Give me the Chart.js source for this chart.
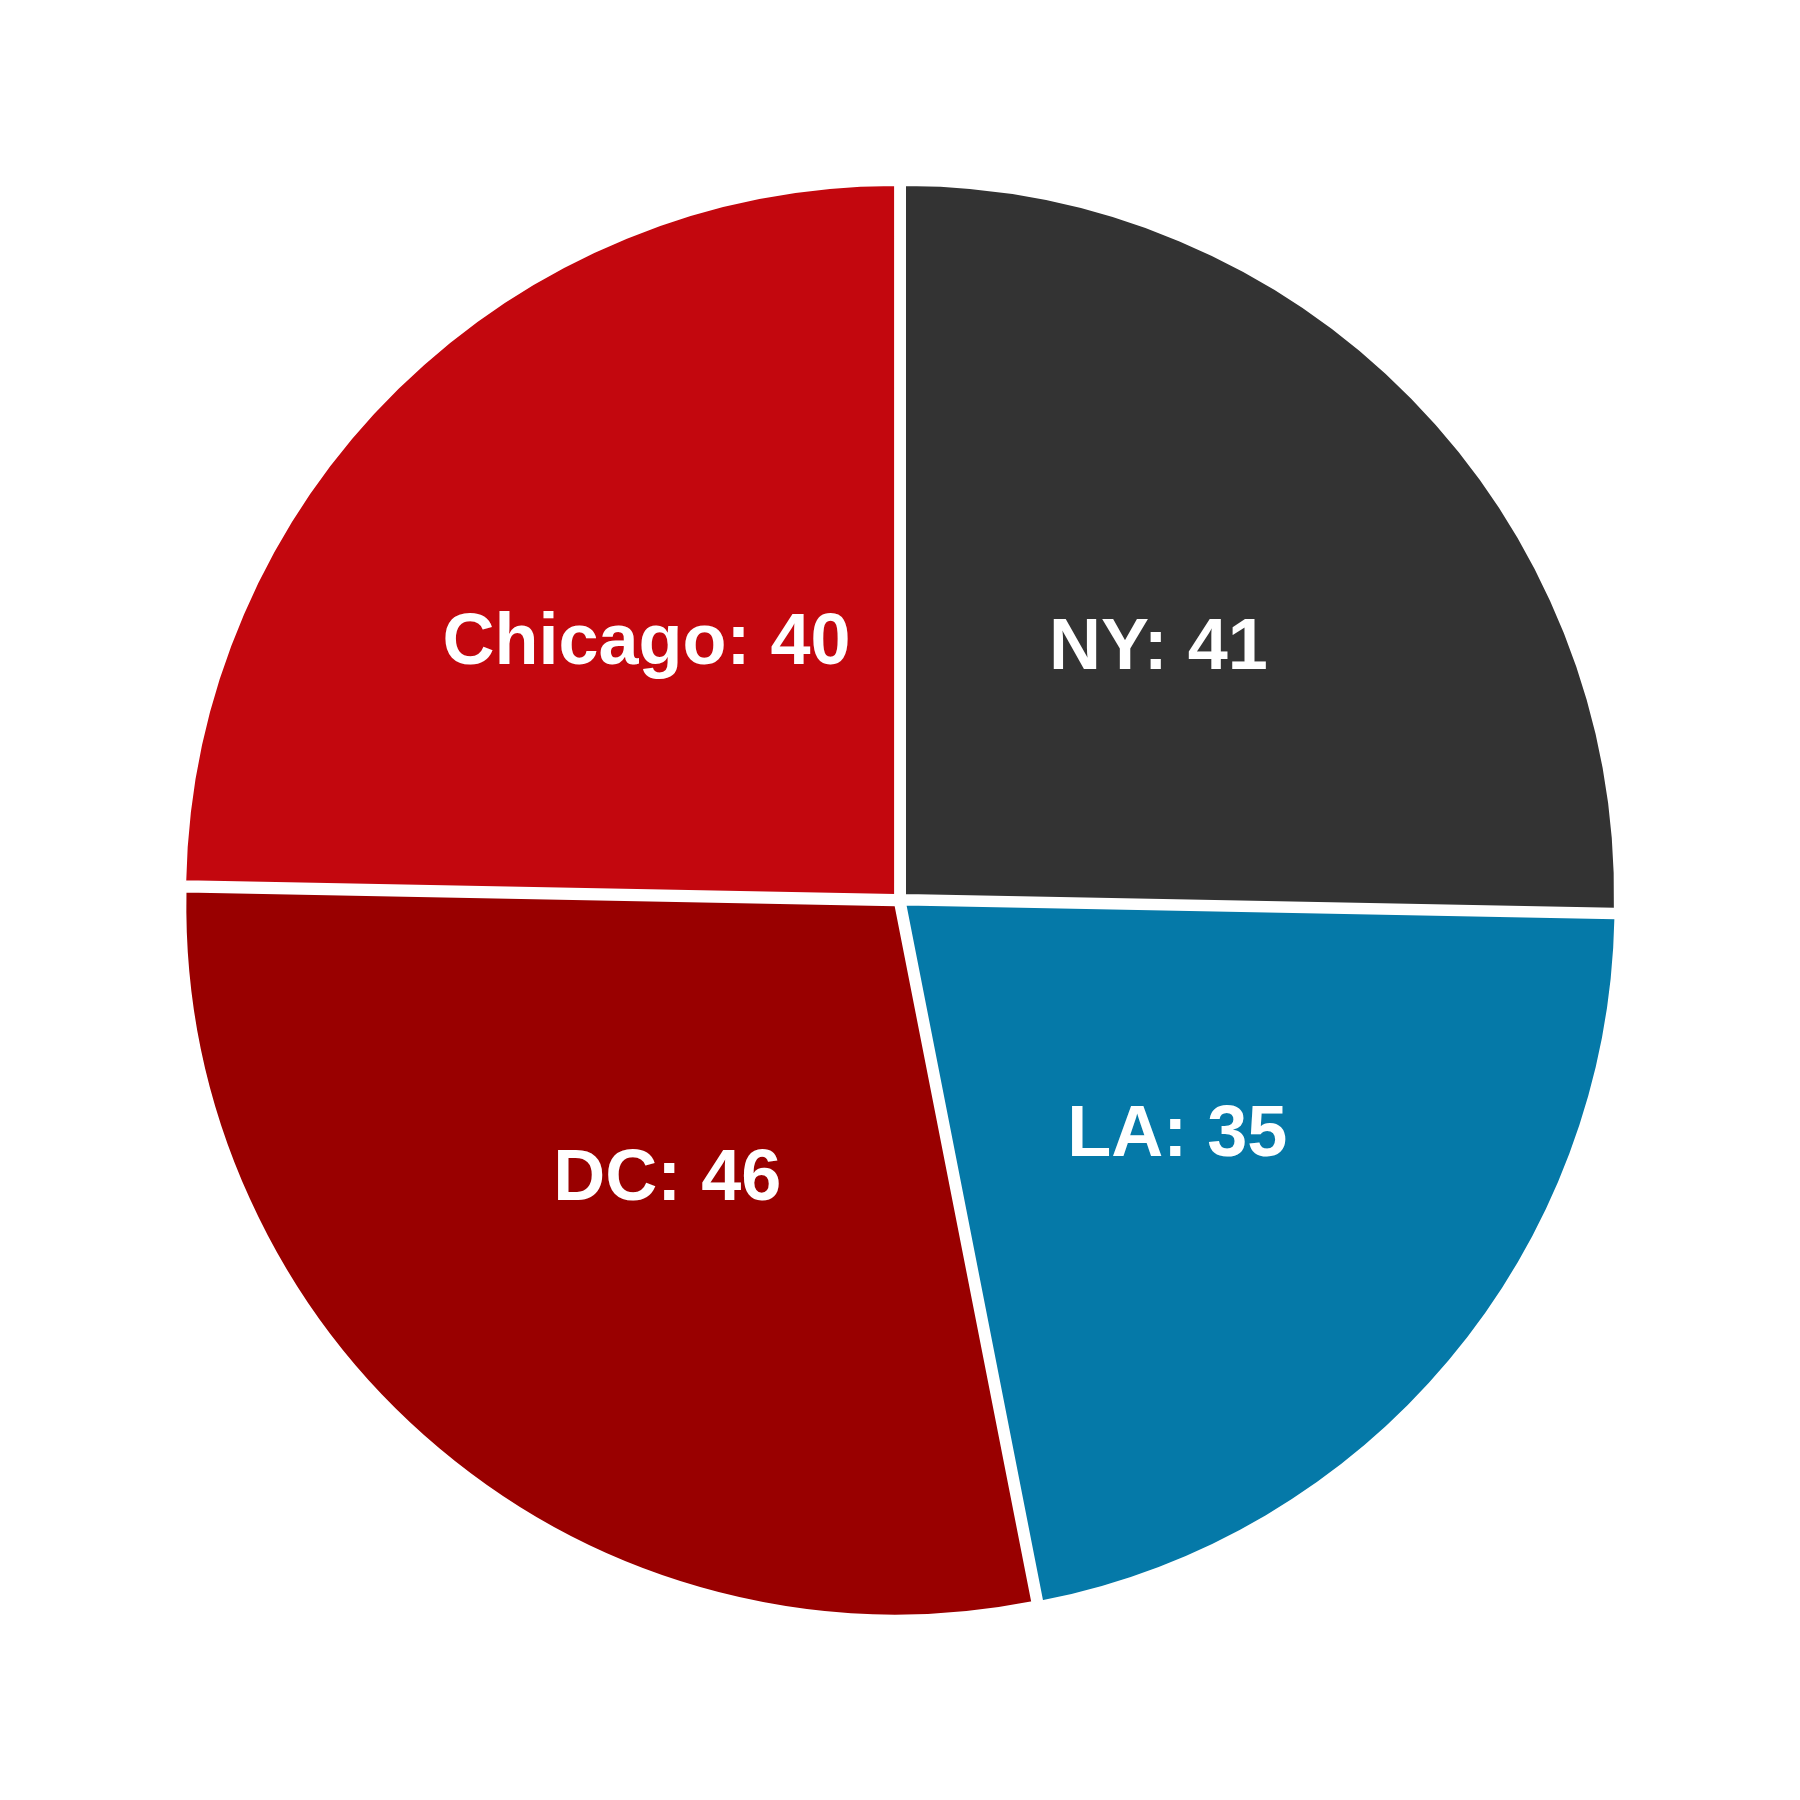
<!DOCTYPE html>
<html>
<head>
<meta charset="utf-8">
<script src="https://cdn.jsdelivr.net/npm/chart.js@4"></script>
<style>
  html, body { margin: 0; padding: 0; background: #fff; }
  #wrap { width: 1800px; height: 1800px; }
</style>
</head>
<body>
<div id="wrap"><canvas id="pieChart"></canvas></div>
<script>
const cities = ["NY", "LA", "DC", "Chicago"]
const counts = [41, 35, 46, 40]
const sliceColors = ["#333333", "#0579a8", "#990000", "#c3070e"]

// draw "City: value" inside each slice, at half radius
const sliceLabels = {
  id: "sliceLabels",
  afterDatasetsDraw(chart) {
    const { ctx } = chart
    const meta = chart.getDatasetMeta(0)
    ctx.save()
    ctx.fillStyle = "#ffffff"
    ctx.font = "bold 72px 'Liberation Sans', Arial, sans-serif"
    ctx.textAlign = "center"
    ctx.textBaseline = "middle"
    meta.data.forEach((arc, i) => {
      const mid = (arc.startAngle + arc.endAngle) / 2
      const r = arc.outerRadius / 2 + arc.options.offset / 4
      const x = arc.x + Math.cos(mid) * r
      const y = arc.y + Math.sin(mid) * r + 3
      ctx.fillText(cities[i] + ": " + counts[i], x, y)
    })
    ctx.restore()
  },
}

document.addEventListener("DOMContentLoaded", () => {
  const ctx = document.getElementById("pieChart")
  new Chart(ctx, {
    type: "pie",
    data: {
      labels: cities,
      datasets: [
        {
          data: counts,
          backgroundColor: sliceColors,
          borderColor: "#ffffff",
          borderWidth: 2,
          offset: 28,
        },
      ],
    },
    options: {
      responsive: true,
      maintainAspectRatio: false,
      animation: false,
      layout: { padding: 175 },
      plugins: {
        legend: { display: false },
        tooltip: { enabled: false },
      },
    },
    plugins: [sliceLabels],
  })
})
</script>
</body>
</html>
